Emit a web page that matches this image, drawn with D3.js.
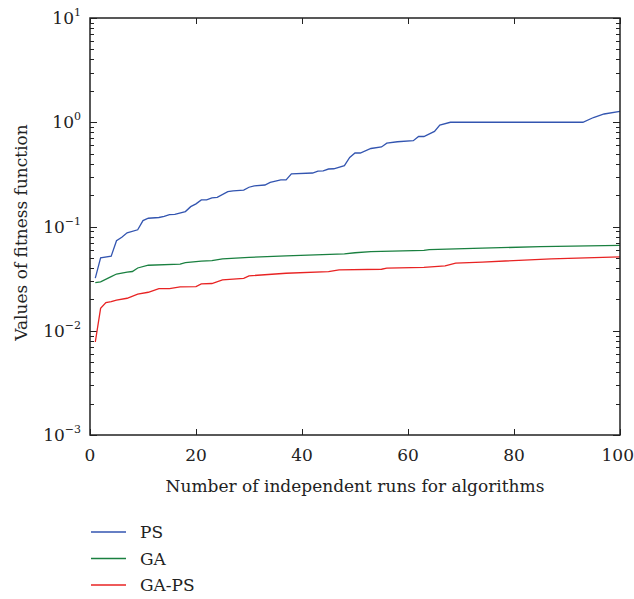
<!DOCTYPE html>
<html>
<head>
<meta charset="utf-8">
<script src="https://cdn.jsdelivr.net/npm/d3@7"></script>
<style>
  body { margin: 0; background: #fff; }
  svg { display: block; }
  text { font-family: "DejaVu Serif", "Liberation Serif", serif; fill: #222; }
</style>
</head>
<body>
<script>
// run numbers and fitness values
var psRuns   = [1, 2, 4, 5, 6, 7, 9, 10, 11, 13, 14, 15, 16, 18, 19, 20, 21, 22, 23, 24, 26, 27, 29, 30, 31, 33, 34, 36, 37, 38, 42, 43, 44, 45, 46, 48, 49, 50, 51, 53, 55, 56, 58, 61, 62, 63, 65, 66, 68, 93, 95, 97, 100];
var psVals   = [0.032, 0.05, 0.052, 0.073, 0.079, 0.087, 0.093, 0.114, 0.12, 0.122, 0.125, 0.13, 0.131, 0.139, 0.155, 0.165, 0.18, 0.18, 0.188, 0.19, 0.216, 0.22, 0.223, 0.238, 0.245, 0.25, 0.265, 0.28, 0.28, 0.32, 0.326, 0.34, 0.342, 0.356, 0.358, 0.384, 0.46, 0.507, 0.507, 0.56, 0.58, 0.63, 0.65, 0.665, 0.73, 0.73, 0.817, 0.94, 1.0, 1.0, 1.11, 1.2, 1.27];

var gaRuns   = [1, 2, 4, 5, 7, 8, 9, 11, 17, 18, 21, 23, 25, 30, 37, 48, 50, 53, 63, 64, 74, 85, 100];
var gaVals   = [0.029, 0.0295, 0.033, 0.035, 0.0365, 0.037, 0.04, 0.0425, 0.0436, 0.045, 0.0466, 0.047, 0.049, 0.0505, 0.0523, 0.0546, 0.056, 0.0575, 0.059, 0.06, 0.062, 0.064, 0.066];

var gapsRuns = [1, 2, 3, 4, 5, 7, 9, 11, 13, 15, 17, 20, 21, 23, 25, 29, 30, 37, 45, 47, 55, 56, 63, 67, 69, 74, 87, 100];
var gapsVals = [0.0078, 0.0164, 0.0186, 0.019, 0.0197, 0.0205, 0.0225, 0.0234, 0.0254, 0.0254, 0.0263, 0.0265, 0.0281, 0.0284, 0.0307, 0.0318, 0.0336, 0.0356, 0.0369, 0.0384, 0.0389, 0.0398, 0.0406, 0.0419, 0.0445, 0.0456, 0.049, 0.0511];

var seriesNames  = ["PS", "GA", "GA-PS"];
var seriesColors = ["#3355b0", "#1a8040", "#e82323"];
var xTicks = [0, 20, 40, 60, 80, 100];
var yExps  = [-3, -2, -1, 0, 1];

var W = 634, H = 599;
var pLeft = 90, pRight = 620, pTop = 18, pBottom = 435;

var svg = d3.select("body").append("svg")
    .attr("width", W)
    .attr("height", H);

var x = d3.scaleLinear().domain([0, 100]).range([pLeft, pRight]);
var y = d3.scaleLog().domain([1e-3, 10]).range([pBottom, pTop]);

// minor + major ticks on y (inward, both sides)
var yMinor = [];
yExps.slice(0, -1).forEach(function(e) {
	for (var k = 2; k <= 9; k++) yMinor.push(k * Math.pow(10, e));
});
var tickG = svg.append("g").attr("stroke", "#222").attr("stroke-width", 1);
yMinor.forEach(function(v) {
	var yy = Math.round(y(v)) + 0.5;
	tickG.append("line").attr("x1", pLeft).attr("x2", pLeft + 4).attr("y1", yy).attr("y2", yy);
	tickG.append("line").attr("x1", pRight).attr("x2", pRight - 4).attr("y1", yy).attr("y2", yy);
});
yExps.forEach(function(e) {
	var yy = Math.round(y(Math.pow(10, e))) + 0.5;
	tickG.append("line").attr("x1", pLeft).attr("x2", pLeft + 7).attr("y1", yy).attr("y2", yy);
	tickG.append("line").attr("x1", pRight).attr("x2", pRight - 7).attr("y1", yy).attr("y2", yy);
});
xTicks.forEach(function(t) {
	var xx = Math.round(x(t)) + 0.5;
	tickG.append("line").attr("x1", xx).attr("x2", xx).attr("y1", pBottom).attr("y2", pBottom - 6);
	tickG.append("line").attr("x1", xx).attr("x2", xx).attr("y1", pTop).attr("y2", pTop + 6);
});

// lines
var line = d3.line()
	.x(function(d) { return x(d[0]); })
	.y(function(d) { return y(d[1]); });

var allRuns = [psRuns, gaRuns, gapsRuns];
var allVals = [psVals, gaVals, gapsVals];
allRuns.forEach(function(runs, i) {
	var pts = runs.map(function(r, j) { return [r, allVals[i][j]]; });
	svg.append("path")
		.datum(pts)
		.attr("d", line)
		.attr("fill", "none")
		.attr("stroke", seriesColors[i])
		.attr("stroke-width", 1.3);
});

// frame
svg.append("rect")
	.attr("x", pLeft).attr("y", pTop)
	.attr("width", pRight - pLeft).attr("height", pBottom - pTop)
	.attr("fill", "none").attr("stroke", "#222").attr("stroke-width", 1.5);

// tick labels
xTicks.forEach(function(t) {
	svg.append("text")
		.attr("x", x(t)).attr("y", pBottom + 26)
		.attr("text-anchor", t == 100 ? "end" : "middle")
		.attr("dx", t == 100 ? 14 : 0)
		.attr("font-size", 17)
		.text(t);
});
yExps.forEach(function(e) {
	var t = svg.append("text")
		.attr("x", pLeft - 9).attr("y", y(Math.pow(10, e)) + 6)
		.attr("text-anchor", "end")
		.attr("font-size", 17);
	t.append("tspan").text("10");
	t.append("tspan").attr("font-size", 11).attr("dy", -8).text(e < 0 ? "\u2212" + (-e) : e);
});

// axis titles
svg.append("text")
	.attr("x", (pLeft + pRight) / 2).attr("y", 492)
	.attr("text-anchor", "middle")
	.attr("font-size", 17)
	.text("Number of independent runs for algorithms");
svg.append("text")
	.attr("transform", "translate(27," + ((pTop + pBottom) / 2 + 6) + ") rotate(-90)")
	.attr("text-anchor", "middle")
	.attr("font-size", 17)
	.text("Values of fitness function");

// legend
seriesNames.forEach(function(name, i) {
	var ly = 532 + i * 26.5;
	svg.append("line")
		.attr("x1", 91).attr("x2", 126).attr("y1", ly).attr("y2", ly)
		.attr("stroke", seriesColors[i]).attr("stroke-width", 1.3);
	svg.append("text")
		.attr("x", 140).attr("y", ly + 6)
		.attr("font-size", 17)
		.text(name);
});
</script>
</body>
</html>
